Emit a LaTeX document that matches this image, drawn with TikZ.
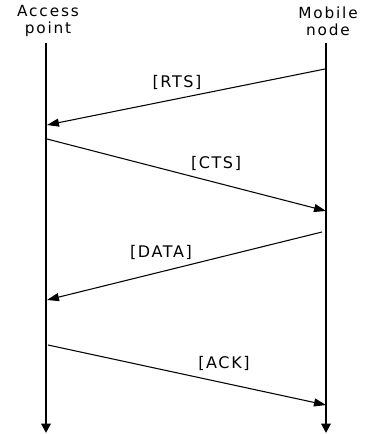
\documentclass[tikz,border=0pt]{standalone}
\usepackage{fontspec}
\setmainfont{DejaVu Sans}
\usetikzlibrary{arrows.meta,positioning}

\begin{document}
\begin{tikzpicture}[x=0.75pt,y=-0.75pt,
        head/.style={font=\fontsize{11.5}{12.5}\selectfont\addfontfeatures{LetterSpace=12},
                     align=center,inner sep=0pt},
        lbl/.style={font=\fontsize{12}{12}\selectfont\addfontfeatures{LetterSpace=10},
                    inner sep=0pt},
        life/.style={line width=1.5pt,-{Triangle[length=7pt,width=7pt]}},
        msg/.style={line width=0.8pt,-{Triangle[length=9pt,width=6pt]}}
      ]
        \useasboundingbox (0,0) rectangle (365,434);
        % lifelines
        \node[head] (AP) at (48,21) {Access\\point};
        \node[head] (MN) at (328,21) {Mobile\\node};
        \coordinate (APt) at (46,43);  \coordinate (APb) at (46,433);
        \coordinate (MNt) at (326,43); \coordinate (MNb) at (326,433);
        \draw[life] (APt)--(APb);
        \draw[life] (MNt)--(MNb);
        % messages
        \coordinate (rts1) at (325,69);  \coordinate (rts2) at (47,125);
        \coordinate (cts1) at (47,139);  \coordinate (cts2) at (326,211);
        \coordinate (dat1) at (322,232); \coordinate (dat2) at (47,300);
        \coordinate (ack1) at (48,345);  \coordinate (ack2) at (326,405);
        \draw[msg] (rts1)--(rts2); \draw[msg] (cts1)--(cts2);
        \draw[msg] (dat1)--(dat2); \draw[msg] (ack1)--(ack2);
        \node[lbl] (RTS) at (177,82) {[RTS]};
        \node[lbl] (CTS) at (216,163) {[CTS]};
        \node[lbl] (DATA) at (161,252) {[DATA]};
        \node[lbl] (ACK) at (224,363) {[ACK]};
      \end{tikzpicture}
\end{document}
